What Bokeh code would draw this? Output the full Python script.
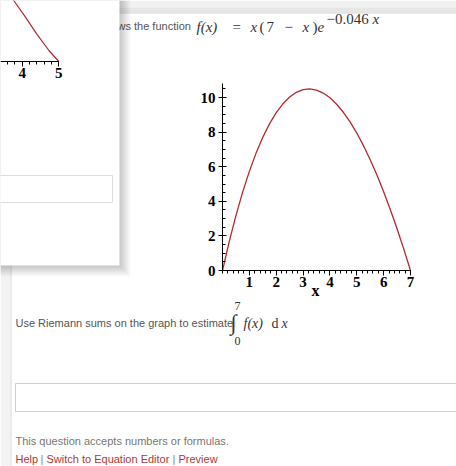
from bokeh.plotting import figure
from bokeh.models import Range1d, LinearAxis, FixedTicker
from bokeh.core.properties import value
from bokeh.embed import file_html
from bokeh.resources import INLINE

# f(x) = x (7 - x) e^(-0.046 x), sampled along [0, 7]
curve_x = [0, 0.25, 0.5, 0.75, 1, 1.25, 1.5, 1.75, 2, 2.25, 2.5, 2.75, 3, 3.25, 3.5,
           3.75, 4, 4.25, 4.5, 4.75, 5, 5.25, 5.5, 5.75, 6, 6.25, 6.5, 6.75, 7]
curve_y = [0.0, 1.668, 3.176, 4.529, 5.730, 6.786, 7.700, 8.477, 9.121, 9.637, 10.028,
           10.299, 10.453, 10.495, 10.428, 10.257, 9.983, 9.612, 9.147, 8.590, 7.945,
           7.216, 6.406, 5.517, 4.553, 3.516, 2.410, 1.237, 0.0]
x_ticks = [1, 2, 3, 4, 5, 6, 7]
y_ticks = [0, 2, 4, 6, 8, 10]

# the small graph in the pop-up panel (only its right end is visible)
pop_x = [3.6, 3.77, 4.09, 4.39, 4.73, 5.0]
pop_y = [3.6, 3.05, 2.22, 1.39, 0.55, 0.0]
pop_ticks = [4, 5]

W, H = 456, 466
RED = "#B02A2E"
SERIF = "Liberation Serif"
SANS = "Liberation Sans"
INK = "#333333"

# screen anchors of the main graph
X0, X7 = 222.0, 410.0
Y0, Y10 = 270.0, 97.0
ux = (X7 - X0) / 7
uy = (Y0 - Y10) / 10

# screen anchors of the pop-up graph
PX4, PX5, PY0, PUY = 21.7, 58.3, 61.0, 20.0
pux = PX5 - PX4

p = figure(width=W, height=H,
           x_range=Range1d(-X0 / ux, (W - X0) / ux),
           y_range=Range1d(-(H - Y0) / uy, Y0 / uy),
           x_axis_type=None, y_axis_type=None,
           output_backend="svg", toolbar_location=None,
           min_border=0, outline_line_color=None,
           background_fill_color="white", border_fill_color="white")
p.extra_x_ranges = {"px": Range1d(0, W),
                    "pop": Range1d(4 - PX4 / pux, 4 + (W - PX4) / pux)}
p.extra_y_ranges = {"px": Range1d(H, 0),
                    "pop": Range1d(-(H - PY0) / PUY, PY0 / PUY)}

PX = dict(x_range_name="px", y_range_name="px")

# page chrome: top bar and left gutter
p.quad(left=0, right=W, top=0, bottom=7, fill_color="#f1f1f1", line_color=None, **PX)
p.quad(left=0, right=W, top=7, bottom=12, fill_color="#e6e6e6", line_color=None, **PX)
p.segment(x0=0, y0=12.5, x1=W, y1=12.5, line_color="#d6d6d6", line_width=1, **PX)
p.quad(left=0, right=10, top=12, bottom=H, fill_color="#f3f3f3", line_color=None, **PX)
p.segment(x0=10.5, y0=12, x1=10.5, y1=H, line_color="#dadada", line_width=1, **PX)


def txt(x, y, s, size=11, color="#555555", font=SANS, style="normal", align="left"):
    p.text(x=[x], y=[y], text=[s], text_font=value(font), text_font_size=f"{size}px",
           text_font_style=style, text_color=color, text_align=align,
           text_baseline="middle", **PX)


# heading line with the formula
txt(117, 25, "ws the function")
txt(196, 26, "f(x)", 15, INK, SERIF, "italic")
txt(232, 26, "=", 15, INK, SERIF)
txt(250, 26, "x", 15, INK, SERIF, "italic")
txt(259, 26, "(", 15, INK, SERIF)
txt(266, 26, "7", 15, INK, SERIF)
txt(284, 26, "\u2212", 15, INK, SERIF)
txt(302, 26, "x", 15, INK, SERIF, "italic")
txt(312, 26, ")", 15, INK, SERIF)
txt(317, 26, "e", 15, INK, SERIF, "italic")
txt(326, 18, "\u22120.046", 15, INK, SERIF)
txt(372, 18, "x", 15, INK, SERIF, "italic")

# question text with the integral
txt(15, 322, "Use Riemann sums on the graph to estimate")
txt(230, 322, "\u222b", 22, INK, SERIF)
txt(234, 305, "7", 12, INK, SERIF)
txt(234, 340, "0", 12, INK, SERIF)
txt(243, 323, "f(x)", 14, INK, SERIF, "italic")
txt(271, 323, "d", 14, INK, SERIF)
txt(281, 323, "x", 14, INK, SERIF, "italic")

# answer box and footer
p.quad(left=15, right=W + 20, top=383, bottom=411, fill_color="white",
       line_color="#cfcfcf", line_width=1, **PX)
txt(15, 440, "This question accepts numbers or formulas.", 11, "#777777")
LINK = "#A83A3A"
txt(15, 458, "Help", 11, LINK)
txt(40, 458, "|", 11, "#888888")
txt(46, 458, "Switch to Equation Editor", 11, LINK)
txt(172, 458, "|", 11, "#888888")
txt(178, 458, "Preview", 11, LINK)

# pop-up panel with a soft drop shadow
for i in range(12):
    p.quad(left=-30, right=119 + i, top=-30, bottom=265 + i, fill_color="black",
           fill_alpha=0.018, line_color=None, **PX)
p.quad(left=-30, right=119, top=-30, bottom=265, fill_color="white", line_color=None, **PX)
p.quad(left=-10, right=112, top=175, bottom=202, fill_color="white",
       line_color="#dddddd", line_width=1, **PX)
p.line(pop_x, pop_y, line_color=RED, line_width=1.2, x_range_name="pop", y_range_name="pop")

pop_axis = LinearAxis(x_range_name="pop", y_range_name="pop", fixed_location=0,
                      bounds=(3.3, 5),
                      ticker=FixedTicker(ticks=pop_ticks,
                                         minor_ticks=[3.4 + 0.2 * k for k in range(9)]))
p.add_layout(pop_axis, "below")

# main graph
p.line(curve_x, curve_y, line_color=RED, line_width=1.3)

xaxis = LinearAxis(fixed_location=0, bounds=(0, 7),
                   ticker=FixedTicker(ticks=x_ticks, minor_ticks=[0.2 * k for k in range(36)]))
yaxis = LinearAxis(fixed_location=0, bounds=(0, 10.8),
                   ticker=FixedTicker(ticks=y_ticks, minor_ticks=[0.5 * k for k in range(22)]))
p.add_layout(xaxis, "below")
p.add_layout(yaxis, "left")

for ax in (xaxis, pop_axis):
    ax.major_tick_out = 5
    ax.major_tick_in = 0
    ax.minor_tick_out = 3
    ax.minor_tick_in = 0
    ax.major_label_standoff = 1
yaxis.major_tick_out = 4
yaxis.major_tick_in = 4
yaxis.minor_tick_out = 0
yaxis.minor_tick_in = 3
yaxis.major_label_standoff = 3

for ax in (xaxis, yaxis, pop_axis):
    ax.axis_line_color = "black"
    ax.major_tick_line_color = "black"
    ax.minor_tick_line_color = "black"
    ax.major_label_text_font = SERIF
    ax.major_label_text_font_style = "bold"
    ax.major_label_text_font_size = "15px"
    ax.major_label_text_color = "black"

txt(311, 290, "x", 16, "black", SERIF, "bold")

open("out.html", "w").write(file_html(p, INLINE))
